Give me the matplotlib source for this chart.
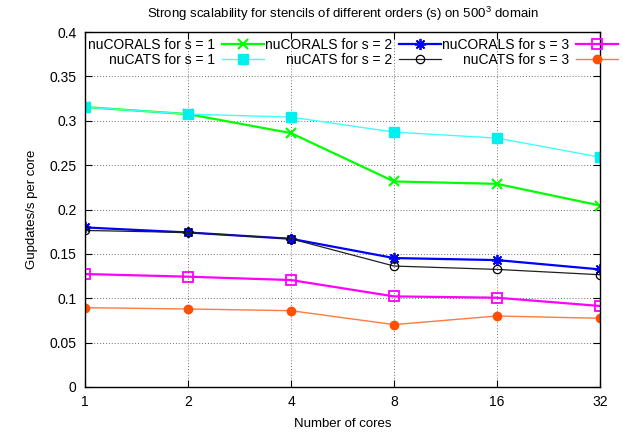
import matplotlib
matplotlib.use("Agg")
import matplotlib.pyplot as plt

plt.rcParams['font.family'] = ['Liberation Sans', 'DejaVu Sans']
plt.rcParams['mathtext.fontset'] = 'custom'
plt.rcParams['mathtext.rm'] = 'Liberation Sans'
plt.rcParams['mathtext.it'] = 'Liberation Sans'

cores = [1, 2, 4, 8, 16, 32]
core_labels = ['1', '2', '4', '8', '16', '32']

coral_s1 = [0.3154, 0.3075, 0.2861, 0.2316, 0.2289, 0.2045]
coral_s2 = [0.1798, 0.1741, 0.1670, 0.1453, 0.1430, 0.1325]
coral_s3 = [0.1273, 0.1243, 0.1205, 0.1021, 0.1006, 0.0913]
cats_s1 = [0.3154, 0.3075, 0.3041, 0.2872, 0.2805, 0.2590]
cats_s2 = [0.1764, 0.1741, 0.1670, 0.1363, 0.1325, 0.1265]
cats_s3 = [0.0894, 0.0879, 0.0860, 0.0703, 0.0800, 0.0774]

y_ticks = [0, 0.05, 0.1, 0.15, 0.2, 0.25, 0.3, 0.35, 0.4]
y_tick_labels = ['0', '0.05', '0.1', '0.15', '0.2', '0.25', '0.3', '0.35', '0.4']

fig = plt.figure(figsize=(6.23, 4.32), dpi=100)
ax = fig.add_axes([85 / 623, 1 - 387 / 432, 515 / 623, 355 / 432])

h_c1, = ax.plot(cores, coral_s1, color='#00ff00', lw=1.6, marker='x', ms=7, mew=1.5,
                label='nuCORALS for s = 1')
h_c2, = ax.plot(cores, coral_s2, color='#0000ff', lw=1.6, marker=(8, 2, 0), ms=8, mew=1.3,
                label='nuCORALS for s = 2')
h_c3, = ax.plot(cores, coral_s3, color='#ff00ff', lw=1.6, marker='s', ms=7, mew=1.3,
                mfc='none', label='nuCORALS for s = 3')
h_a1, = ax.plot(cores, cats_s1, color='#40ffff', lw=1.0, marker='s', ms=7, mfc='#00f0f0',
                mec='#00f0f0', label='nuCATS for s = 1')
h_a2, = ax.plot(cores, cats_s2, color='#202020', lw=0.9, marker='o', ms=6, mfc='none',
                mec='black', mew=0.9, label='nuCATS for s = 2')
h_a3, = ax.plot(cores, cats_s3, color='#ff7a40', lw=1.0, marker='o', ms=6, mfc='#ff5000',
                mec='#ff5000', label='nuCATS for s = 3')

ax.set_xscale('log', base=2)
ax.set_xlim(1, 32)
ax.set_xticks(cores)
ax.set_xticklabels(core_labels)
ax.minorticks_off()
ax.set_ylim(0, 0.4)
ax.set_yticks(y_ticks)
ax.set_yticklabels(y_tick_labels)

ax.grid(True, which='major', linestyle=(0, (1, 2)), color='#707070', lw=0.7)
ax.tick_params(direction='in', top=True, right=True, length=5, width=0.8,
               labelsize=10, pad=6, colors='black')
for s in ax.spines.values():
    s.set_linewidth(1.0)

ax.set_title('Strong scalability for stencils of different orders (s) on 500$^3$ domain',
             fontsize=9.5, pad=10)
ax.set_xlabel('Number of cores', fontsize=9.5, labelpad=6)
ax.set_ylabel('Gupdates/s per core', fontsize=9.5, labelpad=8)

handles = [h_c1, h_a1, h_c2, h_a2, h_c3, h_a3]
fig.legend(handles=handles, labels=[h.get_label() for h in handles],
           ncol=3, markerfirst=False, frameon=False,
           loc='upper right', bbox_to_anchor=(618 / 623, 1 - 38 / 432),
           fontsize=10, handlelength=3.0, handletextpad=0.5,
           columnspacing=0.1, labelspacing=0.05, borderpad=0, borderaxespad=0)

fig.savefig('out.png', dpi=100)
